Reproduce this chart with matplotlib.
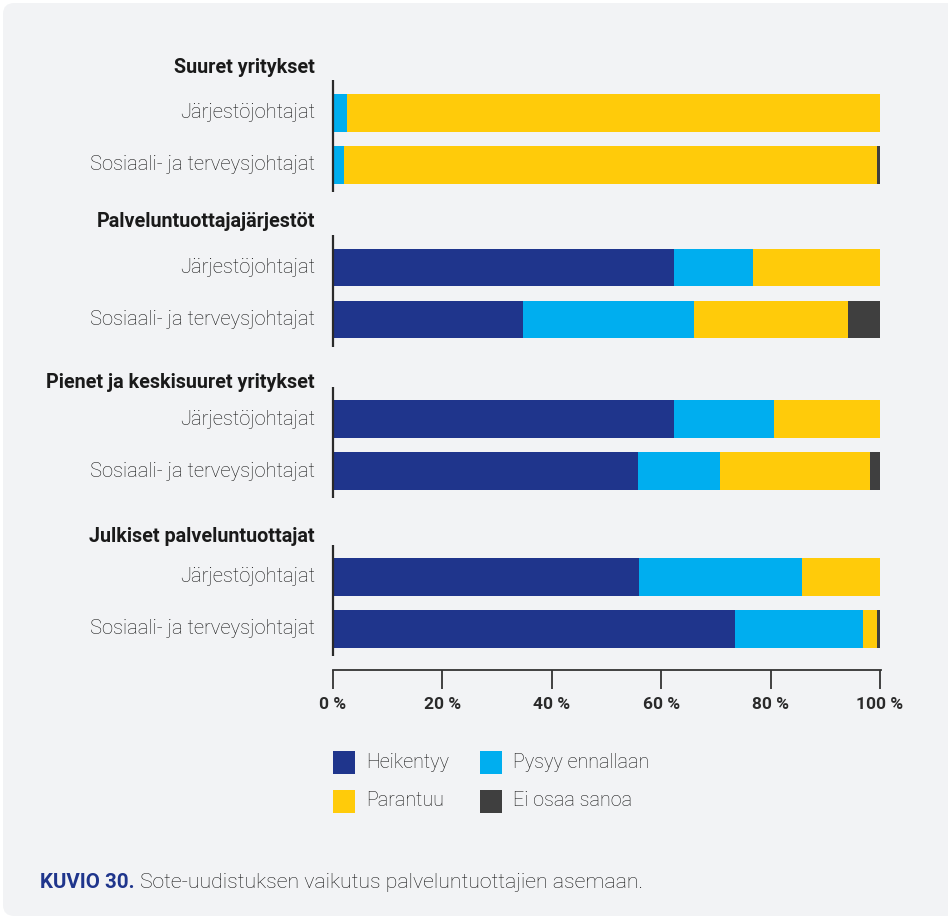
import matplotlib
matplotlib.use("Agg")
import matplotlib.pyplot as plt
from matplotlib.patches import FancyBboxPatch, Rectangle
import numpy as np

plt.rcParams['font.family'] = ['Roboto', 'DejaVu Sans']

groups = ["Suuret yritykset", "Palveluntuottajajärjestöt",
          "Pienet ja keskisuuret yritykset", "Julkiset palveluntuottajat"]
respondents = ["Järjestöjohtajat", "Sosiaali- ja terveysjohtajat"]
series_names = ["Heikentyy", "Pysyy ennallaan", "Parantuu", "Ei osaa sanoa"]
colors = ["#1f358c", "#00aeef", "#ffcb0a", "#3f3f3f"]

# shares in %, one row per bar (group x respondent)
heikentyy = [0.0, 0.0, 62.3, 34.8, 62.3, 55.8, 56.0, 73.5]
pysyy = [2.6, 2.0, 14.5, 31.2, 18.3, 14.9, 29.8, 23.4]
parantuu = [97.4, 97.4, 23.2, 28.2, 19.4, 27.4, 14.2, 2.5]
ei_osaa = [0.0, 0.6, 0.0, 5.8, 0.0, 1.9, 0.0, 0.6]
xticks = [0, 20, 40, 60, 80, 100]

W, H = 948, 916
txt = "#141414"
fig = plt.figure(figsize=(W / 100, H / 100), dpi=100, facecolor="white")
bg = FancyBboxPatch((3 / W, 0), 1.2, (H - 3) / H, boxstyle="round,pad=0,rounding_size=0.012",
                    transform=fig.transFigure, facecolor="#f2f3f5", edgecolor="none", zorder=-10)
fig.patches.append(bg)

ax = fig.add_axes([333 / W, 1 - 670 / H, 548 / W, 610 / H])
ax.set_facecolor("none")

group_pos = [0, 2.98, 5.9, 8.93]
header_pos = [-0.875, 2.087, 5.2, 8.16]
ypos = []
for g in group_pos:
    ypos += [g, g + 1]
ypos = np.array(ypos)

left = np.zeros(len(ypos))
for vals, c in zip([heikentyy, pysyy, parantuu, ei_osaa], colors):
    ax.barh(ypos, vals, left=left, height=0.73, color=c, linewidth=0)
    left += np.array(vals)

ax.set_xlim(0, 100.2)
ax.set_ylim(10.72, -1.01)

for s in ["left", "right", "top"]:
    ax.spines[s].set_visible(False)
ax.spines["bottom"].set_color("#333333")
ax.spines["bottom"].set_linewidth(1.3)
ax.set_yticks([])
ax.set_xticks(xticks)
ax.set_xticklabels([f"{t} %" for t in xticks], fontsize=12.5, fontweight="bold", color="#2a2a2a")
ax.tick_params(axis="x", direction="out", length=13.5, width=1.3, color="#333333", pad=6)

for i, g in enumerate(group_pos):
    ax.plot([0, 0], [g - 0.62, g + 1.52], color="#2a2a2a", lw=1.6, solid_capstyle="butt", clip_on=False)
    ax.text(-3.3, header_pos[i], groups[i], ha="right", va="center",
            fontsize=14.2, fontweight="bold", color="#1a1a1a")
    for k, r in enumerate(respondents):
        ax.text(-3.3, g + k, r, ha="right", va="center", fontsize=14.5,
                fontweight="light", color=txt)

# legend
leg_items = [(333, 762, 0), (480, 762, 1), (333, 801, 2), (480, 801, 3)]
for x, y, i in leg_items:
    fig.patches.append(Rectangle((x / W, 1 - (y + 11.5) / H), 22 / W, 23 / H,
                                 transform=fig.transFigure, facecolor=colors[i], edgecolor="none"))
    fig.text((x + 33) / W, 1 - y / H, series_names[i], ha="left", va="center",
             fontsize=14.2, fontweight="light", color=txt)

t1 = fig.text(40 / W, 1 - 882 / H, "KUVIO 30.", ha="left", va="center",
              fontsize=14.8, fontweight="bold", color="#1f358c")
fig.canvas.draw()
bb = t1.get_window_extent()
fig.text((bb.x1 + 5) / W, 1 - 882 / H, "Sote-uudistuksen vaikutus palveluntuottajien asemaan.",
         ha="left", va="center", fontsize=15.3, fontweight="light", color=txt)

fig.savefig("out.png", dpi=100, facecolor="white")
